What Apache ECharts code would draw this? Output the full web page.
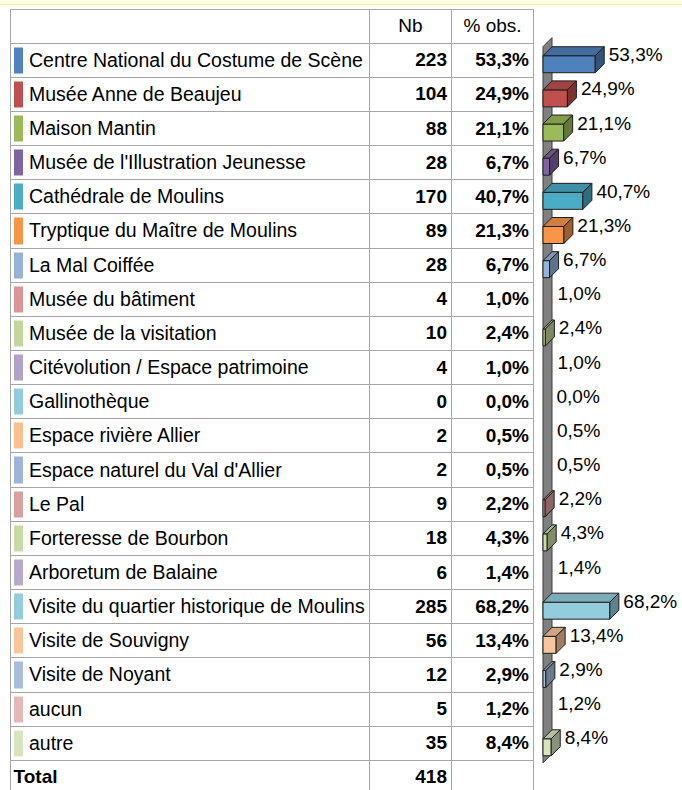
<!DOCTYPE html>
<html>
<head>
<meta charset="utf-8">
<script src="https://cdn.jsdelivr.net/npm/echarts@6/dist/echarts.min.js"></script>
<style>
  html, body { margin: 0; padding: 0; background: #fff; overflow: hidden; }
  #chart { width: 682px; height: 800px; }
</style>
</head>
<body>
<div id="chart"></div>
<script>
// donnees du tableau
var names = [
  'Centre National du Costume de Scène',
  'Musée Anne de Beaujeu',
  'Maison Mantin',
  "Musée de l'Illustration Jeunesse",
  'Cathédrale de Moulins',
  'Tryptique du Maître de Moulins',
  'La Mal Coiffée',
  'Musée du bâtiment',
  'Musée de la visitation',
  'Citévolution / Espace patrimoine',
  'Gallinothèque',
  'Espace rivière Allier',
  "Espace naturel du Val d'Allier",
  'Le Pal',
  'Forteresse de Bourbon',
  'Arboretum de Balaine',
  'Visite du quartier historique de Moulins',
  'Visite de Souvigny',
  'Visite de Noyant',
  'aucun',
  'autre'
];
var counts = [223, 104, 88, 28, 170, 89, 28, 4, 10, 4, 0, 2, 2, 9, 18, 6, 285, 56, 12, 5, 35];
var percents = [53.3, 24.9, 21.1, 6.7, 40.7, 21.3, 6.7, 1.0, 2.4, 1.0, 0.0, 0.5, 0.5, 2.2, 4.3, 1.4, 68.2, 13.4, 2.9, 1.2, 8.4];
var headers = ['Nb', '% obs.'];
var totalLabel = 'Total';
var totalCount = 418;

// couleurs des modalites
var palette = [
  '#4F81BD', '#C0504D', '#9BBB59', '#8064A2', '#4BACC6', '#F79646',
  '#95B3D7', '#D99694', '#C3D69B', '#B3A2C7', '#93CDDD', '#FAC090',
  '#9DB5D8', '#D9A09E', '#C9DBA5', '#B9AACB', '#93CDDD', '#F9C59A',
  '#A7BEDD', '#E6B9B8', '#D7E4BD'
];

var FONT = '"Liberation Sans", Arial, sans-serif';
var BORDER = '#A6A6A6';
var colEdges = [0, 358.5, 440.5, 523]; // bords des colonnes (repere du tableau)
var DEPTH = 9;

// lignes : entete + modalites + total
var rowKeys = ['head'].concat(names.map(function (n, i) { return 'r' + i; }), ['total']);

function shade(hex, f) {
  var c = echarts.color.parse(hex);
  return 'rgb(' + Math.round(c[0] * f) + ',' + Math.round(c[1] * f) + ',' + Math.round(c[2] * f) + ')';
}
function fmtPct(v) {
  return v.toFixed(1).replace('.', ',') + '%';
}
function txt(text, x, y, align, bold, size) {
  return {
    type: 'text',
    style: {
      text: text, x: x, y: y,
      fill: '#000',
      fontSize: size || 19,
      fontFamily: FONT,
      fontWeight: bold ? 'bold' : 'normal',
      align: align, textAlign: align,
      verticalAlign: 'middle', textVerticalAlign: 'middle'
    }
  };
}

function renderRow(params, api) {
  var r = params.dataIndex;
  var c = api.coord([0, r]);
  var band = api.size([0, 1])[1];
  var top = Math.round(c[1] - band / 2) + 0.5;
  var bot = Math.round(c[1] + band / 2) + 0.5;
  var xs = colEdges.map(function (e) { return Math.round(api.coord([e, r])[0]) + 0.5; });
  var cy = c[1];
  var children = [];
  for (var k = 0; k < 3; k++) {
    children.push({
      type: 'rect',
      shape: { x: xs[k], y: top, width: xs[k + 1] - xs[k], height: bot - top },
      style: { fill: 'none', stroke: BORDER, lineWidth: 1 }
    });
  }
  if (r === 0) {
    children.push(txt(headers[0], (xs[1] + xs[2]) / 2, cy, 'center', false));
    children.push(txt(headers[1], (xs[2] + xs[3]) / 2, cy, 'center', false));
  } else if (r === rowKeys.length - 1) {
    children.push(txt(totalLabel, xs[0] + 3, cy, 'left', true));
    children.push(txt(String(totalCount), xs[2] - 4.5, cy, 'right', true));
  } else {
    var i = r - 1;
    children.push({
      type: 'rect',
      shape: { x: xs[0] + 3.5, y: top + 4, width: 9, height: bot - top - 8 },
      style: { fill: palette[i] }
    });
    children.push(txt(names[i], xs[0] + 18.5, cy, 'left', false, 19.5));
    children.push(txt(String(counts[i]), xs[2] - 4.5, cy, 'right', true));
    children.push(txt(fmtPct(percents[i]), xs[3] - 4.5, cy, 'right', true));
  }
  return { type: 'group', children: children };
}

function renderWall(params, api) {
  var band = api.size([0, 1])[1];
  var first = api.coord([0, 1]);
  var last = api.coord([0, names.length]);
  var x0 = first[0];
  var yTop = first[1] - band / 2 + 4;
  var yBot = last[1] + band / 2 + 3;
  return {
    type: 'polygon',
    shape: { points: [[x0, yTop], [x0 + DEPTH, yTop - DEPTH], [x0 + DEPTH, yBot - DEPTH], [x0, yBot]] },
    style: { fill: '#808080', stroke: '#3a3a3a', lineWidth: 1 }
  };
}

function renderBar(params, api) {
  var i = params.dataIndex;
  var row = api.value(1);
  var v = api.value(0);
  var p0 = api.coord([0, row]);
  var p1 = api.coord([v, row]);
  var x0 = p0[0], x1 = p1[0];
  var yTop = p0[1] - 4;
  var yBot = yTop + 17;
  var d = DEPTH;
  var color = palette[i];
  var children = [];
  // les barres trop fines restent cachees par le mur
  if (x1 - x0 >= 2) {
    children.push({
      type: 'rect',
      shape: { x: x0, y: yTop, width: x1 - x0, height: yBot - yTop },
      style: { fill: color, stroke: '#1e1e1e', lineWidth: 1 }
    });
    children.push({
      type: 'polygon',
      shape: { points: [[x0, yTop], [x0 + d, yTop - d], [x1 + d, yTop - d], [x1, yTop]] },
      style: { fill: shade(color, 0.84), stroke: '#1e1e1e', lineWidth: 1 }
    });
    children.push({
      type: 'polygon',
      shape: { points: [[x1, yTop], [x1 + d, yTop - d], [x1 + d, yBot - d], [x1, yBot]] },
      style: { fill: shade(color, 0.64), stroke: '#1e1e1e', lineWidth: 1 }
    });
  }
  children.push(txt(fmtPct(v), x1 + d + 4.5, yTop - 1, 'left', false));
  return { type: 'group', children: children };
}

var chart = echarts.init(document.getElementById('chart'), null, { renderer: 'svg' });

var option = {
  animation: false,
  backgroundColor: '#fff',
  graphic: [
    { type: 'rect', left: 0, top: 0, shape: { width: 682, height: 4 }, style: { fill: '#FFFCDC' } },
    { type: 'line', shape: { x1: 0, y1: 4.5, x2: 682, y2: 4.5 }, style: { stroke: '#F4EDB8', lineWidth: 1 } }
  ],
  grid: [
    { left: 10, top: 8.5, width: 523, height: 785.5 },
    { left: 543, top: 8.5, width: 98, height: 785.5 }
  ],
  xAxis: [
    { gridIndex: 0, type: 'value', min: 0, max: 523, show: false },
    { gridIndex: 1, type: 'value', min: 0, max: 100, show: false }
  ],
  yAxis: [
    { gridIndex: 0, type: 'category', data: rowKeys, inverse: true, show: false },
    { gridIndex: 1, type: 'category', data: rowKeys, inverse: true, show: false }
  ],
  series: [
    {
      type: 'custom',
      xAxisIndex: 0, yAxisIndex: 0,
      renderItem: renderRow,
      data: rowKeys.map(function (k, r) { return [0, r]; }),
      silent: true
    },
    {
      type: 'custom',
      xAxisIndex: 1, yAxisIndex: 1,
      renderItem: renderWall,
      data: [[0, 1]],
      silent: true
    },
    {
      type: 'custom',
      xAxisIndex: 1, yAxisIndex: 1,
      renderItem: renderBar,
      data: percents.map(function (p, i) { return [p, i + 1]; }),
      silent: true
    }
  ]
};

chart.setOption(option);
</script>
</body>
</html>
